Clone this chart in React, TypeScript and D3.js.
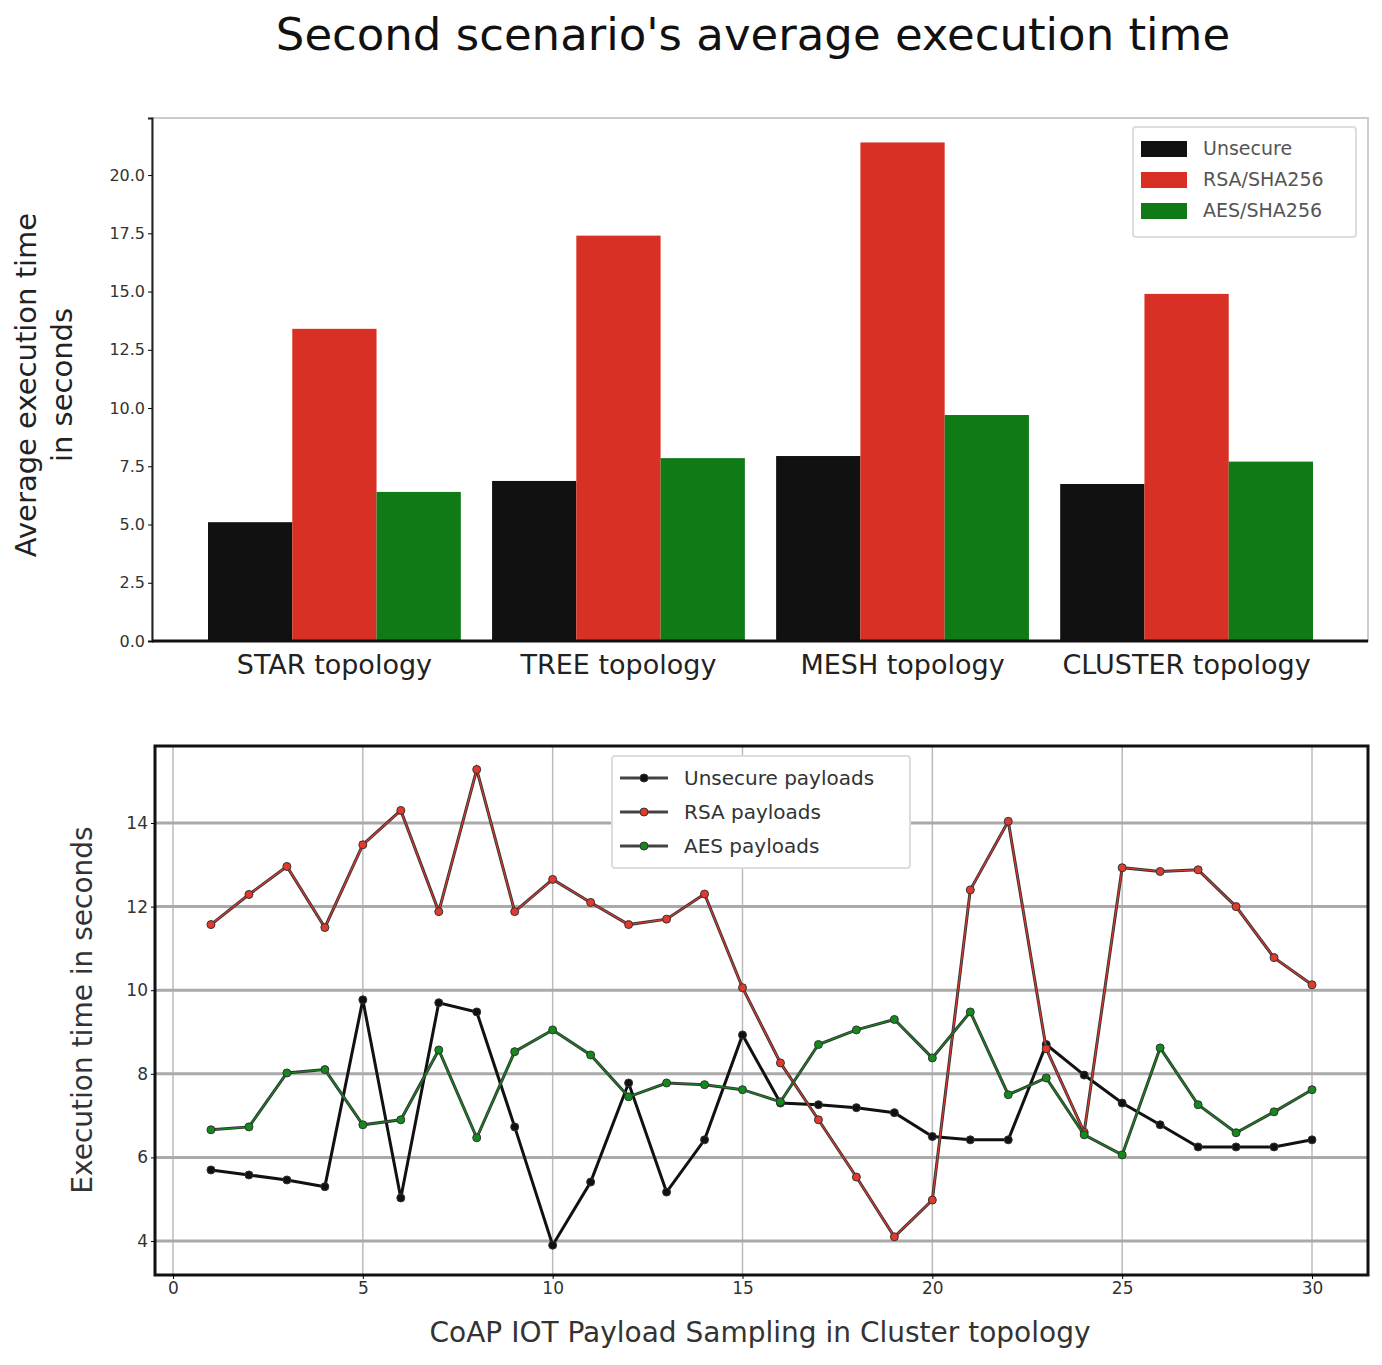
import React, { useEffect, useRef } from "react";
import * as d3 from "d3";

const topologies = ["STAR topology", "TREE topology", "MESH topology", "CLUSTER topology"];
const barSeries = ["Unsecure", "RSA/SHA256", "AES/SHA256"];
const unsecureBars = [5.1, 6.87, 7.94, 6.74];
const rsaBars = [13.4, 17.4, 21.4, 14.9];
const aesBars = [6.4, 7.85, 9.7, 7.7];
const barColors = ["#111111", "#d93025", "#0f7a16"];
const barTicks = [0, 2.5, 5, 7.5, 10, 12.5, 15, 17.5, 20];

const samples = d3.range(1, 31);
const unsecureLine = [5.7, 5.58, 5.46, 5.3, 9.77, 5.03, 9.7, 9.48, 6.73, 3.9, 5.41, 7.78, 5.17, 6.42, 8.93, 7.3, 7.26, 7.19, 7.07, 6.5, 6.42, 6.42, 8.7, 7.97, 7.3, 6.78, 6.25, 6.25, 6.25, 6.42];
const rsaLine = [11.57, 12.29, 12.96, 11.5, 13.48, 14.3, 11.88, 15.28, 11.88, 12.65, 12.1, 11.57, 11.7, 12.3, 10.06, 8.26, 6.9, 5.53, 4.1, 4.98, 12.4, 14.04, 8.6, 6.6, 12.93, 12.84, 12.88, 12.0, 10.78, 10.13];
const aesLine = [6.66, 6.73, 8.02, 8.1, 6.78, 6.9, 8.57, 6.47, 8.53, 9.05, 8.45, 7.45, 7.78, 7.74, 7.62, 7.33, 8.7, 9.05, 9.3, 8.38, 9.48, 7.5, 7.9, 6.54, 6.06, 8.62, 7.26, 6.59, 7.09, 7.62];
const lineNames = ["Unsecure payloads", "RSA payloads", "AES payloads"];
const lineXTicks = [0, 5, 10, 15, 20, 25, 30];
const lineYTicks = [4, 6, 8, 10, 12, 14];

export default function App() {
  const ref = useRef<SVGSVGElement>(null);

  useEffect(() => {
    const svg = d3.select(ref.current);
    svg.selectAll("*").remove();
    const font = "DejaVu Sans, sans-serif";

    svg.append("text").attr("x", 753).attr("y", 50).attr("text-anchor", "middle")
      .attr("font-size", 45).attr("font-family", font).attr("fill", "#111")
      .text("Second scenario's average execution time");

    // ---- bar chart
    const b = { left: 152, right: 1368, top: 118, bottom: 641 };
    svg.append("rect").attr("x", b.left).attr("y", b.top).attr("width", b.right - b.left)
      .attr("height", b.bottom - b.top).attr("fill", "none").attr("stroke", "#ccc").attr("stroke-width", 2);

    const x0 = d3.scaleBand().domain(topologies).range([208, 1313]).paddingInner(0.11);
    const x1 = d3.scaleBand().domain(barSeries).range([0, x0.bandwidth()]);
    const yb = d3.scaleLinear().domain([0, 22.45]).range([b.bottom, b.top]);
    const barValues = [unsecureBars, rsaBars, aesBars];

    barSeries.forEach((s, si) => {
      svg.append("g").selectAll("rect").data(topologies).join("rect")
        .attr("x", (t) => (x0(t) ?? 0) + (x1(s) ?? 0))
        .attr("y", (_, i) => yb(barValues[si][i]))
        .attr("width", x1.bandwidth())
        .attr("height", (_, i) => yb(0) - yb(barValues[si][i]))
        .attr("fill", barColors[si]);
    });

    const ybAxis = svg.append("g").attr("transform", `translate(${b.left},0)`)
      .call(d3.axisLeft(yb).tickValues(barTicks).tickFormat(d3.format(".1f")).tickSize(4));
    ybAxis.select(".domain").attr("stroke", "#222").attr("stroke-width", 2);
    ybAxis.selectAll("text").attr("font-size", 16).attr("font-family", font).attr("fill", "#333");

    const xbAxis = svg.append("g").attr("transform", `translate(0,${b.bottom})`)
      .call(d3.axisBottom(x0).tickSize(0).tickPadding(14).tickSizeOuter(0));
    xbAxis.select(".domain").attr("stroke", "#111").attr("stroke-width", 3)
      .attr("d", `M${b.left},0H${b.right}`);
    xbAxis.selectAll("text").attr("font-size", 27).attr("font-family", font).attr("fill", "#222");

    svg.append("text").attr("transform", "translate(36,385) rotate(-90)").attr("text-anchor", "middle")
      .attr("font-size", 29).attr("font-family", font).attr("fill", "#222").text("Average execution time");
    svg.append("text").attr("transform", "translate(72,385) rotate(-90)").attr("text-anchor", "middle")
      .attr("font-size", 29).attr("font-family", font).attr("fill", "#222").text("in seconds");

    const lgB = svg.append("g").attr("transform", "translate(1133,127)");
    lgB.append("rect").attr("width", 223).attr("height", 110).attr("fill", "#fff").attr("stroke", "#ddd").attr("stroke-width", 2).attr("rx", 3);
    barSeries.forEach((s, i) => {
      lgB.append("rect").attr("x", 8).attr("y", 14 + i * 31).attr("width", 46).attr("height", 16).attr("fill", barColors[i]);
      lgB.append("text").attr("x", 70).attr("y", 28 + i * 31).attr("font-size", 19).attr("font-family", font).attr("fill", "#555").text(s);
    });

    // ---- line chart
    const l = { left: 155, right: 1368, top: 746, bottom: 1275 };
    const xl = d3.scaleLinear().domain([0, 30]).range([173, 1312]);
    const yl = d3.scaleLinear().domain([4, 14]).range([1241, 823]);

    const grid = svg.append("g");
    lineXTicks.forEach((t) => grid.append("line").attr("x1", xl(t)).attr("x2", xl(t))
      .attr("y1", l.top).attr("y2", l.bottom).attr("stroke", "#bbb").attr("stroke-width", 1.5));
    lineYTicks.forEach((t) => grid.append("line").attr("y1", yl(t)).attr("y2", yl(t))
      .attr("x1", l.left).attr("x2", l.right).attr("stroke", "#aaa").attr("stroke-width", 3));

    const lineColors = ["#111111", "#e03a2f", "#138a1c"];
    const lineData = [unsecureLine, rsaLine, aesLine];
    const gen = d3.line<number>().x((_, i) => xl(samples[i])).y((d) => yl(d));
    lineData.forEach((vals, si) => {
      svg.append("path").datum(vals).attr("d", gen).attr("fill", "none")
        .attr("stroke", si === 0 ? "#111" : "#333").attr("stroke-width", 3);
      if (si > 0) svg.append("path").datum(vals).attr("d", gen).attr("fill", "none")
        .attr("stroke", lineColors[si]).attr("stroke-width", 1.2);
      svg.append("g").selectAll("circle").data(vals).join("circle")
        .attr("cx", (_, i) => xl(samples[i])).attr("cy", (d) => yl(d)).attr("r", 4)
        .attr("fill", lineColors[si]).attr("stroke", "#333").attr("stroke-width", 1);
    });

    svg.append("rect").attr("x", l.left).attr("y", l.top).attr("width", l.right - l.left)
      .attr("height", l.bottom - l.top).attr("fill", "none").attr("stroke", "#111").attr("stroke-width", 3);

    const xlAxis = svg.append("g").attr("transform", `translate(0,${l.bottom})`)
      .call(d3.axisBottom(xl).tickValues(lineXTicks).tickSize(4));
    xlAxis.select(".domain").remove();
    xlAxis.selectAll("text").attr("font-size", 17).attr("font-family", font).attr("fill", "#333");
    const ylAxis = svg.append("g").attr("transform", `translate(${l.left},0)`)
      .call(d3.axisLeft(yl).tickValues(lineYTicks).tickSize(4));
    ylAxis.select(".domain").remove();
    ylAxis.selectAll("text").attr("font-size", 17).attr("font-family", font).attr("fill", "#333");

    svg.append("text").attr("transform", "translate(92,1010) rotate(-90)").attr("text-anchor", "middle")
      .attr("font-size", 28).attr("font-family", font).attr("fill", "#333").text("Execution time in seconds");
    svg.append("text").attr("x", 760).attr("y", 1342).attr("text-anchor", "middle")
      .attr("font-size", 28).attr("font-family", font).attr("fill", "#333").text("CoAP IOT Payload Sampling in Cluster topology");

    const lgL = svg.append("g").attr("transform", "translate(612,756)");
    lgL.append("rect").attr("width", 298).attr("height", 112).attr("fill", "#fff").attr("stroke", "#ddd").attr("stroke-width", 2).attr("rx", 3);
    lineNames.forEach((s, i) => {
      const yy = 22 + i * 34;
      lgL.append("line").attr("x1", 8).attr("x2", 56).attr("y1", yy).attr("y2", yy).attr("stroke", "#444").attr("stroke-width", 3);
      lgL.append("circle").attr("cx", 32).attr("cy", yy).attr("r", 4).attr("fill", lineColors[i]).attr("stroke", "#333");
      lgL.append("text").attr("x", 72).attr("y", yy + 7).attr("font-size", 20).attr("font-family", font).attr("fill", "#333").text(s);
    });
  }, []);

  return <svg ref={ref} width={1382} height={1365} style={{ display: "block", background: "#fff", position: "absolute", left: 0, top: 0 }} />;
}
